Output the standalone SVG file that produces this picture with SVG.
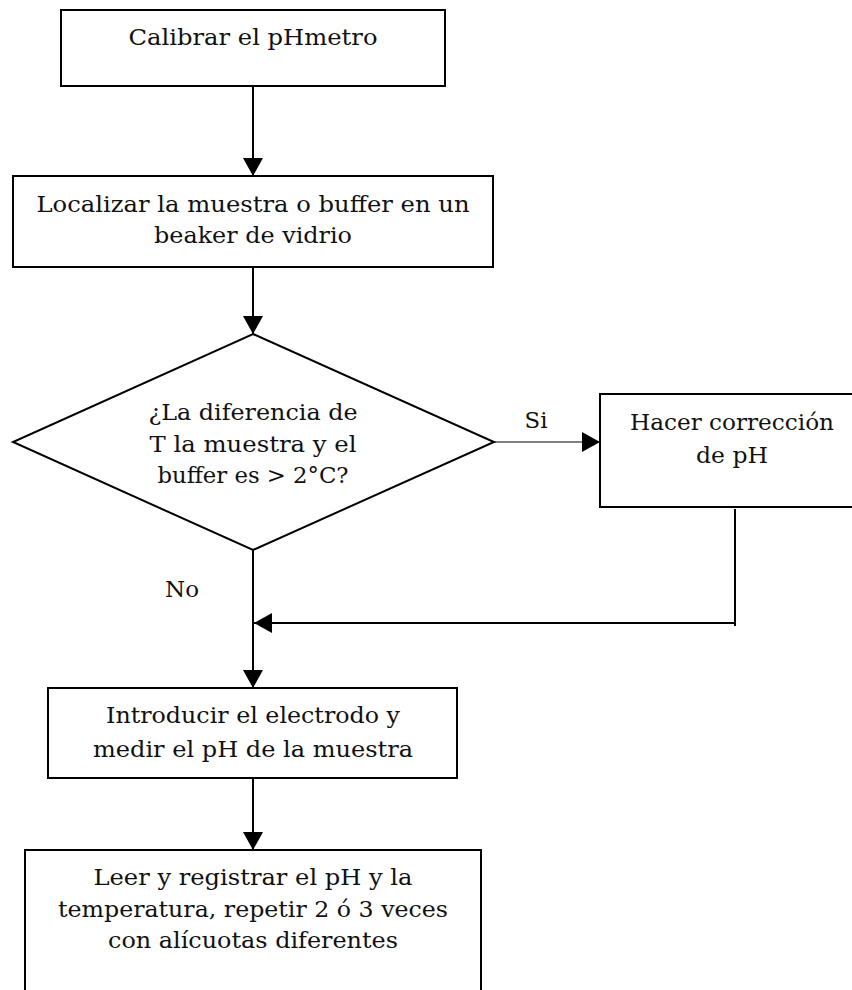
<svg xmlns="http://www.w3.org/2000/svg" width="852" height="990" viewBox="0 0 852 990">
  <style>
    .box { fill: #ffffff; stroke: #000000; stroke-width: 2; }
    .lbl { font-family: "DejaVu Serif", "Liberation Serif", serif; font-size: 22px; fill: #111111; text-anchor: middle; }
    .edge { fill: none; stroke: #000000; stroke-width: 2; }
    .thin { fill: none; stroke: #000000; stroke-width: 1; }
  </style>
  <defs>
    <marker id="arrow" markerUnits="userSpaceOnUse" markerWidth="18" markerHeight="20" refX="18" refY="10" orient="auto" viewBox="0 0 18 20">
      <path d="M0,0 L18,10 L0,20 Z" fill="#000000"/>
    </marker>
  </defs>
  <rect width="852" height="990" fill="#ffffff"/>

  <g id="connectors">
    <line class="edge" x1="253" y1="84" x2="253" y2="176" marker-end="url(#arrow)"/>
    <line class="edge" x1="253" y1="267" x2="253" y2="334" marker-end="url(#arrow)"/>
    <line class="thin" x1="488" y1="442" x2="600" y2="442" marker-end="url(#arrow)"/>
    <line class="edge" x1="253" y1="550" x2="253" y2="688" marker-end="url(#arrow)"/>
    <polyline class="edge" points="735,509 735,626"/>
    <line class="edge" x1="736" y1="623" x2="254" y2="623" marker-end="url(#arrow)"/>
    <line class="edge" x1="253" y1="775" x2="253" y2="850" marker-end="url(#arrow)"/>
  </g>

  <g id="n1">
    <rect class="box" x="61" y="10" width="384" height="76"/>
    <text class="lbl" x="253" y="45" textLength="249" lengthAdjust="spacingAndGlyphs">Calibrar el pHmetro</text>
  </g>

  <g id="n2">
    <rect class="box" x="13" y="176" width="480" height="91"/>
    <text class="lbl" x="253" y="212" textLength="433" lengthAdjust="spacingAndGlyphs">Localizar la muestra o buffer en un</text>
    <text class="lbl" x="253" y="243" textLength="198" lengthAdjust="spacingAndGlyphs">beaker de vidrio</text>
  </g>

  <g id="n3">
    <polygon class="box" points="253,334 494,442 253,550 13,442"/>
    <text class="lbl" x="253" y="420" textLength="209" lengthAdjust="spacingAndGlyphs">¿La diferencia de</text>
    <text class="lbl" x="253" y="452" textLength="207" lengthAdjust="spacingAndGlyphs">T la muestra y el</text>
    <text class="lbl" x="253" y="483" textLength="191" lengthAdjust="spacingAndGlyphs">buffer es &gt; 2°C?</text>
  </g>

  <g id="n4">
    <rect class="box" x="600" y="394" width="262" height="113"/>
    <text class="lbl" x="732" y="430" textLength="204" lengthAdjust="spacingAndGlyphs">Hacer corrección</text>
    <text class="lbl" x="732" y="463" textLength="72" lengthAdjust="spacingAndGlyphs">de pH</text>
  </g>

  <g id="n5">
    <rect class="box" x="48" y="688" width="409" height="90"/>
    <text class="lbl" x="253" y="723" textLength="294" lengthAdjust="spacingAndGlyphs">Introducir el electrodo y</text>
    <text class="lbl" x="253" y="757" textLength="320" lengthAdjust="spacingAndGlyphs">medir el pH de la muestra</text>
  </g>

  <g id="n6">
    <rect class="box" x="25" y="850" width="456" height="160"/>
    <text class="lbl" x="253" y="885" textLength="319" lengthAdjust="spacingAndGlyphs">Leer y registrar el pH y la</text>
    <text class="lbl" x="253" y="917" textLength="390" lengthAdjust="spacingAndGlyphs">temperatura, repetir 2 ó 3 veces</text>
    <text class="lbl" x="253" y="948" textLength="290" lengthAdjust="spacingAndGlyphs">con alícuotas diferentes</text>
  </g>

  <g id="edge-labels">
    <text class="lbl" x="536" y="428" textLength="23" lengthAdjust="spacingAndGlyphs">Si</text>
    <text class="lbl" x="182" y="597" textLength="34" lengthAdjust="spacingAndGlyphs">No</text>
  </g>
</svg>
